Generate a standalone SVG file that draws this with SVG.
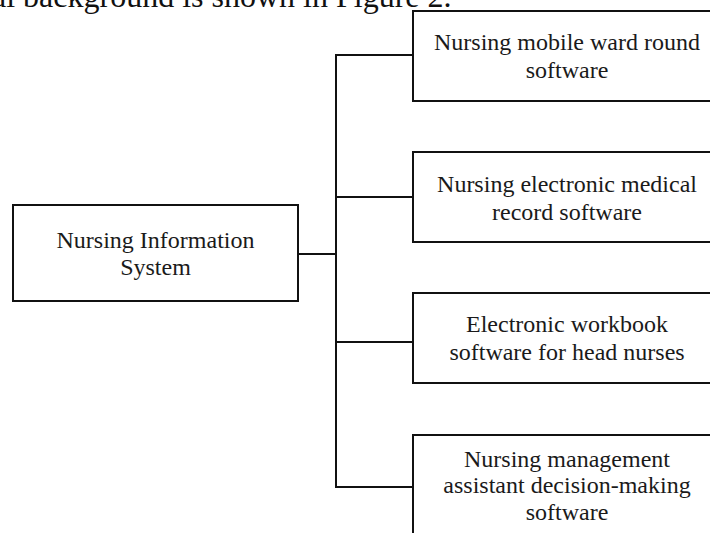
<svg xmlns="http://www.w3.org/2000/svg" width="710" height="533" viewBox="0 0 710 533">
<style>
  .box { fill: #ffffff; stroke: #111111; stroke-width: 2; }
  .conn { fill: none; stroke: #111111; stroke-width: 2; }
  .lbl { font-family: "Liberation Serif", "Times New Roman", serif; font-size: 24px; fill: #1a1a1a; text-anchor: middle; }
  .cap { font-family: "Liberation Serif", "Times New Roman", serif; font-size: 32px; fill: #111111; }
</style>
<rect x="0" y="0" width="710" height="533" fill="#ffffff"/>
<text class="cap" x="-8" y="7">al background is shown in Figure 2.</text>
<g id="connectors">
  <path class="conn" d="M298 254 H336"/>
  <path class="conn" d="M336 55 V487"/>
  <path class="conn" d="M335 55 H413"/>
  <path class="conn" d="M335 197 H413"/>
  <path class="conn" d="M335 342 H413"/>
  <path class="conn" d="M335 487 H413"/>
</g>
<g id="node-root">
  <rect class="box" x="13" y="205" width="285" height="96"/>
  <text class="lbl" x="155.5" y="248">Nursing Information</text>
  <text class="lbl" x="155.5" y="275">System</text>
</g>
<g id="node-ward-round">
  <rect class="box" x="413" y="11" width="308" height="90"/>
  <text class="lbl" x="567" y="50">Nursing mobile ward round</text>
  <text class="lbl" x="567" y="78">software</text>
</g>
<g id="node-emr">
  <rect class="box" x="413" y="152" width="308" height="90"/>
  <text class="lbl" x="567" y="192">Nursing electronic medical</text>
  <text class="lbl" x="567" y="220">record software</text>
</g>
<g id="node-workbook">
  <rect class="box" x="413" y="293" width="308" height="90"/>
  <text class="lbl" x="567" y="332">Electronic workbook</text>
  <text class="lbl" x="567" y="360">software for head nurses</text>
</g>
<g id="node-decision">
  <rect class="box" x="413" y="435" width="308" height="110"/>
  <text class="lbl" x="567" y="467">Nursing management</text>
  <text class="lbl" x="567" y="493">assistant decision-making</text>
  <text class="lbl" x="567" y="520">software</text>
</g>
</svg>
